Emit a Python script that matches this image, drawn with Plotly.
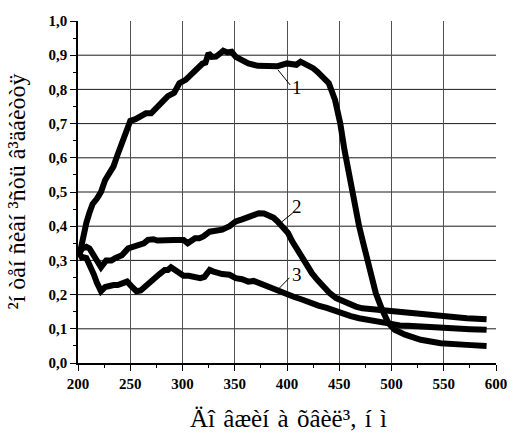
import plotly.graph_objects as go

# Curve 1
x1 = [201, 204, 208, 211, 214, 218, 222, 226, 230, 234, 238, 242, 246, 250, 255, 260, 265, 270, 276, 281,
      286, 292, 297, 303, 308, 314, 319, 322, 325, 328, 332, 336, 339, 343, 347, 351, 356, 363, 372, 383,
      391, 400, 405, 409, 413, 417, 421, 425, 429, 434, 440, 446, 451, 455, 460, 465, 469, 473, 479, 485,
      491, 497, 503, 513, 528, 547, 572, 591]
y1 = [0.31, 0.36, 0.41, 0.44, 0.465, 0.48, 0.50, 0.535, 0.555, 0.575, 0.61, 0.645, 0.68, 0.708, 0.713, 0.72,
      0.73, 0.73, 0.75, 0.762, 0.78, 0.79, 0.818, 0.828, 0.842, 0.862, 0.875, 0.878, 0.906, 0.895, 0.896,
      0.905, 0.913, 0.908, 0.91, 0.895, 0.885, 0.876, 0.869, 0.866, 0.868, 0.876, 0.872, 0.872, 0.881, 0.874,
      0.871, 0.862, 0.852, 0.838, 0.818, 0.769, 0.70, 0.623, 0.535, 0.457, 0.40, 0.35, 0.273, 0.204, 0.156,
      0.117, 0.097, 0.083, 0.068, 0.058, 0.053, 0.050]

# Curve 2
x2 = [201, 204, 208, 211, 216, 222, 227, 232, 236, 242, 248, 253, 258, 263, 267, 272, 276, 281, 286, 292,
      297, 301, 305, 308, 312, 316, 320, 326, 332, 338, 345, 351, 357, 363, 368, 373, 378, 382, 387, 391,
      396, 401, 405, 410, 415, 419, 424, 429, 435, 441, 447, 454, 460, 466, 472, 479, 491, 507, 525, 547,
      572, 591]
y2 = [0.32, 0.335, 0.34, 0.335, 0.31, 0.28, 0.30, 0.30, 0.307, 0.315, 0.335, 0.34, 0.346, 0.35, 0.36, 0.362,
      0.358, 0.36, 0.362, 0.36, 0.36, 0.36, 0.35, 0.355, 0.365, 0.365, 0.37, 0.384, 0.388, 0.39, 0.40, 0.414,
      0.42, 0.428, 0.435, 0.438, 0.437, 0.433, 0.425, 0.414, 0.398, 0.38, 0.356, 0.331, 0.305, 0.282, 0.262,
      0.243, 0.222, 0.204, 0.19, 0.18, 0.172, 0.165, 0.16, 0.158, 0.154, 0.146, 0.141, 0.136, 0.131, 0.128]

# Curve 3
x3 = [201, 204, 208, 212, 215, 218, 222, 226, 230, 234, 238, 242, 247, 251, 256, 260, 264, 269, 273, 278,
      283, 286, 289, 292, 295, 298, 301, 306, 311, 317, 321, 324, 326, 329, 332, 338, 345, 351, 357, 363,
      368, 373, 378, 382, 388, 395, 401, 407, 415, 423, 430, 438, 446, 454, 461, 469, 477, 485, 492, 500,
      508, 516, 525, 535, 545, 553, 565, 575, 591]
y3 = [0.305, 0.31, 0.307, 0.285, 0.26, 0.235, 0.21, 0.222, 0.227, 0.228, 0.228, 0.231, 0.238, 0.225, 0.21,
      0.212, 0.224, 0.236, 0.248, 0.26, 0.272, 0.272, 0.28, 0.275, 0.268, 0.26, 0.255, 0.255, 0.253, 0.248,
      0.252, 0.262, 0.272, 0.268, 0.265, 0.26, 0.258, 0.248, 0.245, 0.238, 0.24, 0.234, 0.226, 0.219, 0.212,
      0.204, 0.2, 0.193, 0.185, 0.175, 0.168, 0.161, 0.152, 0.144, 0.137, 0.131, 0.126, 0.122, 0.117, 0.112,
      0.11, 0.109, 0.107, 0.105, 0.103, 0.102, 0.1, 0.099, 0.097]

# Horizontal grid levels
y_grid = [0.1, 0.2, 0.3, 0.4, 0.5, 0.6, 0.7, 0.8, 0.9]

# Curve labels: text, text position, leader line start (on curve) and end (near text)
label_texts = ["1", "2", "3"]
label_pos = [(409.5, 0.807), (409.3, 0.458), (409.3, 0.26)]
leader_from = [(391.4, 0.857), (395.1, 0.413), (391.1, 0.214)]
leader_to = [(403.0, 0.813), (405.6, 0.439), (402.3, 0.249)]

x_title = "Äî\u200a âæèí\u200a à\u200a õâèë³,\u200a í\u200a ì"
y_title = "²í òåí ñèâí ³ñòü â³äáèòòÿ"

SERIF = "Liberation Serif"

fig = go.Figure()
for xs, ys in [(x1, y1), (x2, y2), (x3, y3)]:
    fig.add_trace(go.Scatter(x=xs, y=ys, mode="lines",
                             line=dict(color="black", width=6),
                             showlegend=False, hoverinfo="skip"))

for gy in y_grid:
    fig.add_shape(type="line", x0=0, x1=1, xref="paper", y0=gy, y1=gy, yref="y",
                  layer="below", line=dict(color="#1a1a1a", width=1))

for (x0, y0), (xe, ye) in zip(leader_from, leader_to):
    fig.add_shape(type="line", x0=x0, y0=y0, x1=xe, y1=ye, xref="x", yref="y",
                  line=dict(color="black", width=1))

for t, (lx, ly) in zip(label_texts, label_pos):
    fig.add_annotation(x=lx, y=ly, text=t, showarrow=False, xref="x", yref="y",
                       font=dict(family=SERIF, size=19, color="black"))

fig.add_annotation(x=-0.147, y=0.5, xref="paper", yref="paper", text=y_title,
                   textangle=-90, showarrow=False, xanchor="center", yanchor="middle",
                   font=dict(family=SERIF, size=24, color="black"))
fig.add_annotation(x=0.264, y=-0.163, xref="paper", yref="paper", text=x_title,
                   showarrow=False, xanchor="left", yanchor="middle",
                   font=dict(family=SERIF, size=25, color="black"))

fig.update_layout(
    width=518, height=433,
    margin=dict(l=78, r=11, t=21, b=70),
    paper_bgcolor="white", plot_bgcolor="white",
    separators=", ",
    font=dict(family=SERIF, color="black"),
)
fig.update_xaxes(range=[200, 600], dtick=50, tick0=200, ticklabeloverflow="allow",
                 showline=True, linecolor="black", linewidth=1.5,
                 ticks="outside", ticklen=6, tickwidth=1.2, tickcolor="black",
                 minor=dict(dtick=25, ticks="outside", ticklen=3, tickcolor="black", showgrid=False),
                 showgrid=True, gridcolor="#505050", gridwidth=1.4, zeroline=False,
                 tickfont=dict(family=SERIF, size=15, color="black", weight="bold"))
fig.update_yaxes(range=[0, 1.0], dtick=0.1, tick0=0, tickformat=".1f", ticklabeloverflow="allow",
                 showline=True, linecolor="black", linewidth=1.5,
                 ticks="outside", ticklen=6, tickwidth=1.2, tickcolor="black",
                 minor=dict(dtick=0.05, ticks="outside", ticklen=3, tickcolor="black", showgrid=False),
                 showgrid=False, zeroline=False,
                 tickfont=dict(family=SERIF, size=15, color="black", weight="bold"))

fig.write_html("out.html", config={"displayModeBar": False},
               post_script="document.body.style.margin='0';document.body.style.padding='0';")
